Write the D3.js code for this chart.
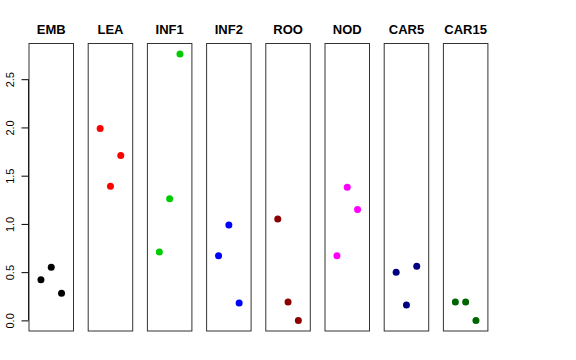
<!DOCTYPE html>
<html>
<head>
<meta charset="utf-8">
<script src="https://cdn.jsdelivr.net/npm/d3@7"></script>
<style>
  body { margin: 0; background: #fff; }
  svg { display: block; font-family: "Liberation Sans", Arial, sans-serif; }
</style>
</head>
<body>
<svg id="chart" width="576" height="360"></svg>
<script>
// one panel per tissue, three samples each
var tissues = ["EMB", "LEA", "INF1", "INF2", "ROO", "NOD", "CAR5", "CAR15"];
var colors = ["#000000", "#ff0000", "#00cd00", "#0000ff", "#8b0000", "#ff00ff", "#000080", "#006400"];
var sampleX = [1, 2, 3];
var values = [
  [0.42, 0.55, 0.28],
  [1.99, 1.39, 1.71],
  [0.71, 1.26, 2.76],
  [0.67, 0.99, 0.18],
  [1.05, 0.19, 0.00],
  [0.67, 1.38, 1.15],
  [0.50, 0.16, 0.56],
  [0.19, 0.19, 0.00]
];
var yTicks = [0, 0.5, 1, 1.5, 2, 2.5];

var svg = d3.select("#chart");

var plotTop = 43.5, plotBottom = 331, plotLeft = 29, panelW = 44.5, pitch = 59.2;

var y = d3.scaleLinear()
  .domain([-0.11, 2.87])
  .range([plotBottom, plotTop]);

var x = d3.scaleLinear()
  .domain([-0.16, 4.16])
  .range([0, panelW]);

// y axis on the far left
var yAxis = d3.axisLeft(y)
  .tickValues(yTicks)
  .tickSize(7)
  .tickFormat(d3.format(".1f"));

var ag = svg.append("g")
  .attr("transform", "translate(" + (plotLeft - 0.5) + ",0)")
  .call(yAxis);
ag.select(".domain").remove();
ag.append("line")
  .attr("x1", 0).attr("x2", 0)
  .attr("y1", y(0)).attr("y2", y(2.5))
  .attr("stroke", "#000");
ag.selectAll(".tick line").attr("stroke", "#000");
ag.selectAll(".tick text")
  .attr("font-size", 11)
  .attr("fill", "#000")
  .attr("text-anchor", "middle")
  .attr("x", 0)
  .attr("dy", 0)
  .attr("transform", "translate(-15,0) rotate(-90)");

var panels = svg.selectAll("g.panel")
  .data(tissues)
  .enter()
  .append("g")
  .attr("class", "panel")
  .attr("transform", function (d, i) {
    return "translate(" + (plotLeft + i * pitch) + ",0)";
  });

panels.append("rect")
  .attr("x", 0)
  .attr("y", plotTop)
  .attr("width", panelW)
  .attr("height", plotBottom - plotTop)
  .attr("fill", "none")
  .attr("stroke", "#333");

panels.append("text")
  .attr("x", panelW / 2)
  .attr("y", 34)
  .attr("text-anchor", "middle")
  .attr("font-weight", "bold")
  .attr("font-size", 13)
  .text(function (d) { return d; });

panels.each(function (d, i) {
  d3.select(this).selectAll("circle")
    .data(values[i])
    .enter()
    .append("circle")
    .attr("cx", function (v, j) { return x(sampleX[j]); })
    .attr("cy", function (v) { return y(v); })
    .attr("r", 3.5)
    .attr("fill", colors[i]);
});
</script>
</body>
</html>
